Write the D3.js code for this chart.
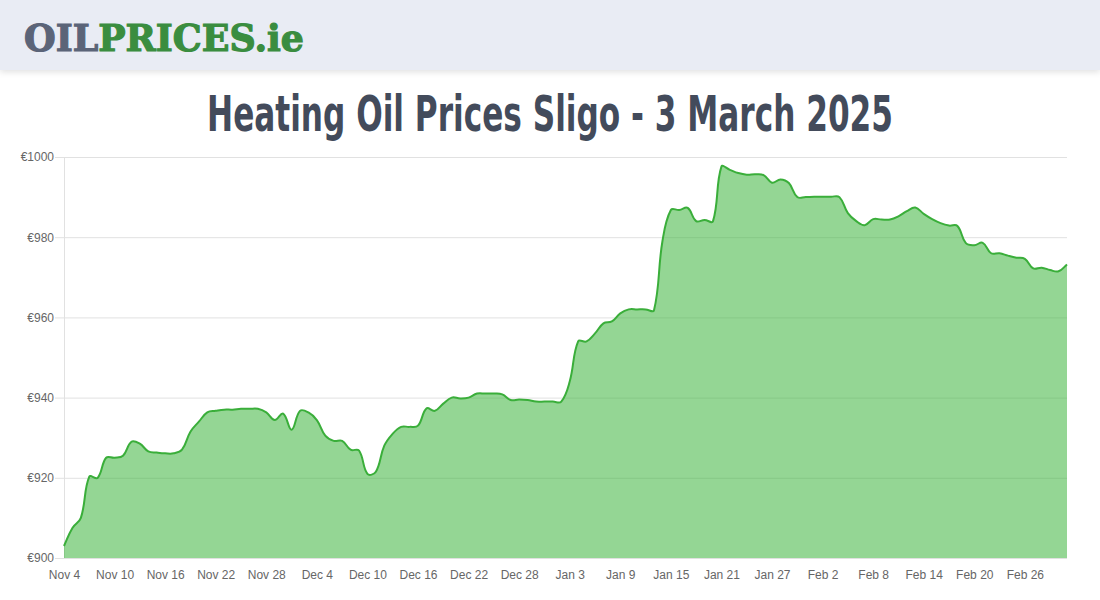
<!DOCTYPE html>
<html>
<head>
<meta charset="utf-8">
<script src="https://cdn.jsdelivr.net/npm/d3@7"></script>
<style>
  html, body { margin: 0; padding: 0; background: #ffffff; }
  svg { display: block; }
</style>
</head>
<body>
<svg id="chart" width="1100" height="600"></svg>
<script>
// ---- Data ----
const startDate = "2024-11-04";
const prices = [
  903, 907.5, 910, 920.3, 920, 925, 925, 925.5, 929, 928.5,
  926.6, 926.3, 926.1, 926.1, 927, 931.5, 934, 936.3, 936.7, 937,
  937, 937.2, 937.2, 937.2, 936.3, 934.4, 936, 932, 936.7, 936.3,
  934.4, 930.5, 929.2, 929.2, 927, 926.8, 921, 921.5, 928, 931,
  932.7, 932.7, 933, 937.3, 936.7, 938.5, 940, 939.8, 940, 941,
  941, 941, 940.8, 939.4, 939.5, 939.4, 939, 939, 939, 939,
  944, 954, 954, 956, 958.5, 959, 961, 962, 962, 962,
  961.8, 979, 986.8, 986.8, 987.3, 984, 984.3, 984, 997.6, 996.8,
  996, 995.6, 995.7, 995.5, 993.6, 994.4, 993.5, 990, 990, 990.1,
  990.1, 990.1, 990, 986, 984, 983, 984.5, 984.4, 984.4, 985.2,
  986.5, 987.4, 985.8, 984.5, 983.5, 982.9, 982.8, 978.5, 978, 978.6,
  976, 976, 975.4, 974.9, 974.6, 972.2, 972.4, 971.8, 971.5, 973.2
];
const xTickLabels = ["Nov 4","Nov 10","Nov 16","Nov 22","Nov 28","Dec 4","Dec 10","Dec 16","Dec 22","Dec 28","Jan 3","Jan 9","Jan 15","Jan 21","Jan 27","Feb 2","Feb 8","Feb 14","Feb 20","Feb 26"];
const yTicks = [900, 920, 940, 960, 980, 1000];
const titleText = "Heating Oil Prices Sligo - 3 March 2025";

// ---- Build ----
const svg = d3.select("#chart");
const W = 1100, H = 600;
const m = { left: 64, right: 1067, top: 157, bottom: 558 };

const start = new Date(startDate + "T00:00:00Z");
const data = prices.map((v, i) => ({ date: d3.utcDay.offset(start, i), value: v }));

// header
const defs = svg.append("defs");
const f = defs.append("filter").attr("id", "sh").attr("x", "-5%").attr("y", "-50%").attr("width", "110%").attr("height", "200%");
f.append("feDropShadow").attr("dx", 0).attr("dy", 2).attr("stdDeviation", 3).attr("flood-color", "#000").attr("flood-opacity", 0.12);
svg.append("rect").attr("x", 0).attr("y", 0).attr("width", W).attr("height", 70)
  .attr("fill", "#e9ecf4").attr("filter", "url(#sh)");

const logo = svg.append("text").attr("x", 24).attr("y", 51)
  .attr("font-family", "'DejaVu Serif', 'Liberation Serif', serif")
  .attr("font-weight", "900").attr("font-size", 37)
  .attr("stroke-width", 1.2).attr("paint-order", "stroke")
  .attr("textLength", 280).attr("lengthAdjust", "spacingAndGlyphs");
logo.append("tspan").attr("fill", "#5b6478").attr("stroke", "#5b6478").text("OIL");
logo.append("tspan").attr("fill", "#3a8d3f").attr("stroke", "#3a8d3f").text("PRICES.ie");

// title (scaled horizontally to the reference's width)
const title = svg.append("text").attr("x", 0).attr("y", 0).attr("text-anchor", "middle")
  .attr("font-family", "'DejaVu Sans Condensed', 'Liberation Sans Narrow', 'Roboto', sans-serif")
  .attr("font-weight", "bold").attr("font-size", 50).attr("fill", "#434b5b")
  .text(titleText);
const tw = title.node().getComputedTextLength() || 686;
title.attr("transform", `translate(550,131) scale(${686 / tw},1)`);

// scales
const x = d3.scaleUtc().domain([data[0].date, data[data.length - 1].date]).range([m.left, m.right]);
const y = d3.scaleLinear().domain([900, 1000]).range([m.bottom, m.top]);

// grid
const grid = svg.append("g");
grid.selectAll("line").data(yTicks).join("line")
  .attr("x1", m.left - 9).attr("x2", m.right)
  .attr("y1", d => y(d) + 0.5).attr("y2", d => y(d) + 0.5)
  .attr("stroke", "#e1e1e1").attr("stroke-width", 1);
grid.append("line").attr("x1", m.left + 0.5).attr("x2", m.left + 0.5)
  .attr("y1", m.top).attr("y2", m.bottom + 1).attr("stroke", "#e1e1e1");

// Chart.js-style spline (tension 0.4, distance weighted control points)
function splinePath(pts, t) {
  const n = pts.length;
  const cps = pts.map((p, i) => {
    const p0 = pts[Math.max(0, i - 1)], p2 = pts[Math.min(n - 1, i + 1)];
    const d01 = Math.hypot(p[0] - p0[0], p[1] - p0[1]);
    const d12 = Math.hypot(p2[0] - p[0], p2[1] - p[1]);
    let s01 = d01 / (d01 + d12 || 1), s12 = d12 / (d01 + d12 || 1);
    const fa = t * s01, fb = t * s12;
    const clampY = v => Math.max(m.top, Math.min(m.bottom, v));
    return {
      prev: [p[0] - fa * (p2[0] - p0[0]), clampY(p[1] - fa * (p2[1] - p0[1]))],
      next: [p[0] + fb * (p2[0] - p0[0]), clampY(p[1] + fb * (p2[1] - p0[1]))]
    };
  });
  let d = `M${pts[0][0]},${pts[0][1]}`;
  for (let i = 1; i < n; i++) {
    const c1 = cps[i - 1].next, c2 = cps[i].prev, p = pts[i];
    d += `C${c1[0]},${c1[1]},${c2[0]},${c2[1]},${p[0]},${p[1]}`;
  }
  return d;
}
const pts = data.map(d => [x(d.date), y(d.value)]);
const linePath = splinePath(pts, 0.4);
const areaPath = linePath + `L${x(data[data.length - 1].date)},${y(900)}L${x(data[0].date)},${y(900)}Z`;

svg.append("path").attr("d", areaPath)
  .attr("fill", "rgba(60,180,60,0.55)");
svg.append("path").attr("d", linePath)
  .attr("fill", "none").attr("stroke", "#3aae3a").attr("stroke-width", 2)
  .attr("stroke-linejoin", "round");

// y axis labels
const yAxis = d3.axisLeft(y).tickValues(yTicks).tickSize(0).tickPadding(0)
  .tickFormat(d => "€" + d);
const gy = svg.append("g").attr("transform", `translate(${m.left - 10},0)`).call(yAxis);
gy.select(".domain").remove();
gy.selectAll("text").attr("font-family", "'Liberation Sans', Arial, sans-serif")
  .attr("font-size", 12).attr("fill", "#666");

// x axis labels
const tickDates = xTickLabels.map((_, i) => d3.utcDay.offset(start, i * 6));
const xAxis = d3.axisBottom(x).tickValues(tickDates).tickSize(0).tickPadding(0)
  .tickFormat((d, i) => xTickLabels[i]);
const gx = svg.append("g").attr("transform", `translate(0,${m.bottom + 12})`).call(xAxis);
gx.select(".domain").remove();
gx.selectAll("text").attr("font-family", "'Liberation Sans', Arial, sans-serif")
  .attr("font-size", 12).attr("fill", "#666");
</script>
</body>
</html>
